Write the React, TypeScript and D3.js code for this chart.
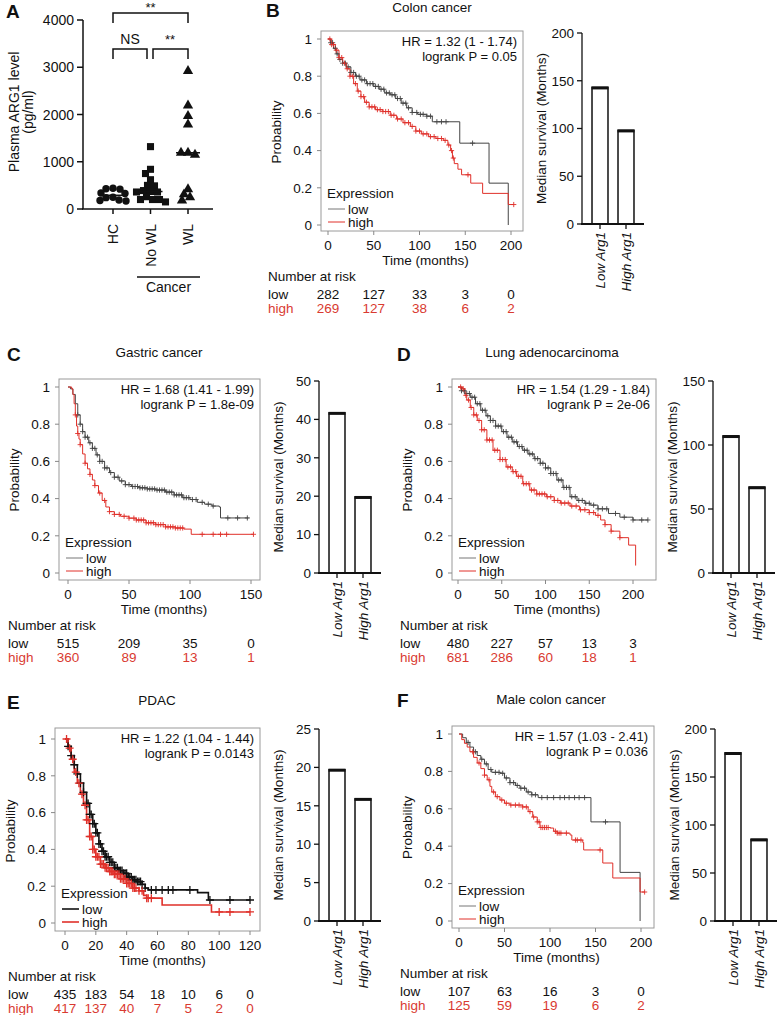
import React from 'react';
import * as d3 from 'd3';

const FONT = "'Liberation Sans', Arial, Helvetica, sans-serif";
const RED = '#e0302a';
const RISK_RED = '#d93a31';

// ---------------- Panel A data ----------------
const groupsA = ['HC', 'No WL', 'WL'];
const hcValues = [440, 430, 420, 340, 330, 250, 240, 190, 180, 170];
const noWlValues = [1320, 840, 750, 620, 500, 490, 390, 370, 360, 360, 260, 200, 200, 200, 150];
const wlValues = [2920, 2190, 1970, 1790, 1190, 1190, 1150, 420, 310, 250, 180];
const ticksA = [0, 1000, 2000, 3000, 4000];

// ---------------- KM data ----------------
type Pt = [number, number];
const probTicks = [0, 0.2, 0.4, 0.6, 0.8, 1];

// B Colon cancer
const bLow: Pt[] = [[0,1],[3,0.98],[6,0.95],[9,0.92],[12,0.89],[16,0.87],[20,0.85],[25,0.82],[30,0.8],[35,0.78],[42,0.76],[50,0.745],[56,0.73],[62,0.71],[68,0.7],[74,0.68],[80,0.655],[86,0.63],[92,0.605],[98,0.595],[108,0.585],[114,0.555],[144,0.44],[176,0.225],[197,0]];
const bHigh: Pt[] = [[0,1],[4,0.97],[8,0.94],[12,0.9],[16,0.87],[20,0.84],[24,0.8],[28,0.76],[32,0.72],[36,0.69],[40,0.66],[45,0.635],[52,0.62],[60,0.61],[68,0.59],[75,0.57],[82,0.55],[90,0.53],[96,0.505],[102,0.49],[110,0.475],[118,0.465],[126,0.455],[131,0.43],[134,0.4],[136,0.36],[138,0.33],[142,0.3],[146,0.27],[156,0.225],[169,0.17],[197,0.11],[203,0.11]];
const bLowCens = [3,5,8,10,13,16,19,22,25,28,31,34,37,40,43,46,49,52,55,58,61,64,67,70,73,76,79,82,85,88,92,97,101,104,108,112,119,124,129,158];
const bHighCens = [2,4,6,9,12,15,18,21,24,27,30,33,36,39,42,45,48,51,54,57,60,63,66,69,72,76,80,84,88,92,96,100,104,108,112,116,120,124,128,132,135,137,153,203];
const bTimes = [0, 50, 100, 150, 200];
const bRiskLow = [282, 127, 33, 3, 0];
const bRiskHigh = [269, 127, 38, 6, 2];

// C Gastric cancer
const cLow: Pt[] = [[0,1],[2,0.99],[4,0.96],[6,0.91],[8,0.85],[10,0.8],[12,0.76],[14,0.73],[17,0.7],[20,0.67],[23,0.635],[26,0.6],[30,0.565],[34,0.54],[38,0.515],[42,0.495],[47,0.475],[52,0.465],[58,0.458],[65,0.452],[72,0.446],[80,0.435],[87,0.42],[94,0.405],[100,0.395],[106,0.38],[112,0.37],[118,0.36],[124,0.355],[125,0.296],[148,0.296]];
const cHigh: Pt[] = [[0,1],[3,0.99],[4,0.96],[5,0.91],[6,0.85],[7,0.79],[8,0.75],[9,0.72],[10,0.69],[12,0.64],[14,0.59],[16,0.56],[18,0.53],[20,0.5],[22,0.47],[25,0.43],[28,0.39],[31,0.355],[34,0.33],[38,0.315],[43,0.305],[50,0.295],[56,0.285],[64,0.27],[72,0.26],[80,0.248],[88,0.242],[95,0.236],[101,0.208],[152,0.208]];
const cLowCens = [8,10,12,14,16,18,20,22,24,26,28,30,32,35,38,41,44,47,50,53,55,57,59,61,63,65,67,69,71,73,75,77,79,81,83,85,87,89,91,93,95,97,99,102,105,110,115,119,131,139,147];
const cHighCens = [6,8,10,14,18,22,26,30,34,38,42,46,50,54,56,58,60,62,64,66,68,70,72,74,76,78,80,82,84,86,88,90,92,94,110,119,125,130,152];
const cTimes = [0, 50, 100, 150];
const cRiskLow = [515, 209, 35, 0];
const cRiskHigh = [360, 89, 13, 1];

// D Lung adenocarcinoma
const dLow: Pt[] = [[0,1],[4,0.98],[8,0.965],[14,0.945],[20,0.91],[26,0.875],[32,0.845],[37,0.82],[43,0.79],[50,0.76],[56,0.73],[62,0.705],[68,0.68],[74,0.66],[80,0.64],[87,0.615],[94,0.59],[100,0.565],[106,0.535],[113,0.5],[120,0.46],[128,0.41],[136,0.39],[145,0.375],[151,0.365],[160,0.345],[172,0.32],[185,0.3],[200,0.285],[217,0.285]];
const dHigh: Pt[] = [[0,1],[5,0.99],[8,0.955],[10,0.93],[14,0.89],[18,0.85],[22,0.82],[27,0.77],[33,0.715],[40,0.66],[48,0.61],[55,0.57],[62,0.545],[67,0.52],[74,0.48],[82,0.446],[90,0.425],[101,0.41],[110,0.39],[117,0.376],[128,0.36],[139,0.34],[150,0.325],[157,0.31],[163,0.285],[168,0.26],[175,0.225],[185,0.19],[195,0.15],[203,0.04]];
const dLowCens = [4,7,10,13,16,19,22,25,28,31,34,37,40,43,46,49,52,55,58,61,64,67,70,73,76,79,82,85,88,91,94,97,100,103,106,109,112,115,118,121,124,127,130,134,138,142,146,150,155,160,165,170,180,190,200,210,217];
const dHighCens = [3,6,9,12,15,18,21,24,27,30,33,36,39,42,45,48,51,54,57,60,63,66,69,72,75,78,81,84,87,90,93,96,99,102,106,110,114,118,122,126,130,135,140,145,150,155,160,168,175,185];
const dTimes = [0, 50, 100, 150, 200];
const dRiskLow = [480, 227, 57, 13, 3];
const dRiskHigh = [681, 286, 60, 18, 1];

// E PDAC
const eLow: Pt[] = [[0,1],[2,0.96],[4,0.91],[6,0.86],[8,0.81],[10,0.76],[12,0.71],[14,0.65],[16,0.59],[18,0.54],[20,0.49],[22,0.43],[24,0.39],[26,0.36],[29,0.33],[32,0.3],[35,0.285],[38,0.27],[41,0.25],[44,0.235],[47,0.225],[50,0.21],[52,0.19],[54,0.18],[86,0.165],[93,0.125],[120,0.125]];
const eHigh: Pt[] = [[0,1],[2,0.95],[4,0.89],[6,0.82],[8,0.76],[10,0.7],[12,0.64],[14,0.56],[16,0.47],[18,0.4],[20,0.36],[23,0.32],[26,0.3],[29,0.28],[32,0.265],[36,0.24],[40,0.215],[44,0.19],[48,0.175],[51,0.15],[53,0.135],[63,0.098],[95,0.06],[120,0.06]];
const eLowCens = [2,4,6,8,10,12,14,15,16,17,18,19,20,21,22,23,24,25,26,27,28,29,30,31,32,33,34,35,36,37,38,39,40,41,42,43,44,45,46,47,48,49,50,52,56,59,63,67,70,81,94,107,120];
const eHighCens = [1,3,5,7,9,11,13,14,15,16,17,18,19,20,21,22,23,24,25,26,27,28,29,30,31,32,33,34,35,36,37,38,39,40,41,42,43,44,45,46,48,50,53,54,56,100,107,120];
const eTimes = [0, 20, 40, 60, 80, 100, 120];
const eRiskLow = [435, 183, 54, 18, 10, 6, 0];
const eRiskHigh = [417, 137, 40, 7, 5, 2, 0];

// F Male colon cancer
const fLow: Pt[] = [[0,1],[4,0.98],[8,0.955],[12,0.93],[16,0.905],[20,0.885],[24,0.865],[28,0.84],[32,0.81],[36,0.795],[45,0.79],[50,0.765],[56,0.74],[62,0.725],[67,0.71],[74,0.69],[80,0.675],[87,0.66],[145,0.53],[177,0.26],[199,0]];
const fHigh: Pt[] = [[0,1],[3,0.97],[6,0.95],[9,0.93],[12,0.905],[16,0.875],[20,0.845],[24,0.815],[28,0.78],[31,0.755],[34,0.72],[36,0.69],[40,0.665],[45,0.647],[50,0.63],[56,0.62],[70,0.61],[76,0.585],[81,0.556],[86,0.53],[89,0.5],[100,0.497],[104,0.48],[108,0.47],[122,0.46],[124,0.433],[136,0.42],[137,0.38],[158,0.31],[169,0.23],[199,0.155],[204,0.155]];
const fLowCens = [10,18,25,30,35,40,44,48,52,56,60,64,68,72,76,80,84,91,97,104,111,116,121,127,132,138,161];
const fHighCens = [15,22,28,33,38,42,47,52,57,62,66,70,74,78,82,86,88,90,92,94,96,98,106,108,110,112,118,128,130,134,155,204];
const fTimes = [0, 50, 100, 150, 200];
const fRiskLow = [107, 63, 16, 3, 0];
const fRiskHigh = [125, 59, 19, 6, 2];

// ---------------- Median survival data ----------------
const barCats = ['Low Arg1', 'High Arg1'];
const bMedian = [143, 98];
const cMedian = [41.7, 19.8];
const dMedian = [107, 67];
const eMedian = [19.7, 15.9];
const fMedian = [175, 85];
const bBarTicks = [0, 50, 100, 150, 200];
const cBarTicks = [0, 10, 20, 30, 40, 50];
const dBarTicks = [0, 50, 100, 150];
const eBarTicks = [0, 5, 10, 15, 20, 25];
const fBarTicks = [0, 50, 100, 150, 200];

function survAt(curve: Pt[], t: number): number {
  let s = curve[0][1];
  for (const [ti, si] of curve) {
    if (ti <= t) s = si;
    else break;
  }
  return s;
}

function beeswarm(values: number[], y: (v: number) => number, cx: number, minDist: number) {
  const placed: { x: number; y: number; v: number }[] = [];
  const sorted = [...values].sort((a, b) => b - a);
  for (const v of sorted) {
    const py = y(v);
    let best = 0;
    for (let k = 0; k < 400; k++) {
      const off = k === 0 ? 0 : k % 2 === 1 ? -Math.ceil(k / 2) : Math.ceil(k / 2);
      const px = cx + off;
      if (placed.every((p) => Math.hypot(p.x - px, p.y - py) >= minDist)) {
        best = off;
        break;
      }
    }
    placed.push({ x: cx + best, y: py, v });
  }
  return placed;
}

function PanelA() {
  const y = d3.scaleLinear().domain([0, 4000]).range([209, 20]);
  const x = d3.scalePoint<string>().domain(groupsA).range([113, 188]);
  const groupVals = [hcValues, noWlValues, wlValues];
  const sq = d3.symbol(d3.symbolSquare, 50)()!;
  const tri = d3.symbol(d3.symbolTriangle, 46)()!;
  return (
    <g fontFamily={FONT} fill="#111">
      <text x={6} y={18} fontSize={19} fontWeight="bold">A</text>
      <line x1={83} x2={83} y1={y(0)} y2={y(4000)} stroke="#111" strokeWidth={1.5} />
      <line x1={82} x2={213} y1={y(0)} y2={y(0)} stroke="#111" strokeWidth={1.5} />
      {ticksA.map((t) => (
        <g key={t}>
          <line x1={77} x2={83} y1={y(t)} y2={y(t)} stroke="#111" strokeWidth={1.5} />
          <text x={74} y={y(t)} dy="0.36em" textAnchor="end" fontSize={14}>{t}</text>
        </g>
      ))}
      <text transform={`translate(19,112) rotate(-90)`} textAnchor="middle" fontSize={14}>Plasma ARG1 level</text>
      <text transform={`translate(33,112) rotate(-90)`} textAnchor="middle" fontSize={14}>(pg/ml)</text>
      {groupsA.map((g) => (
        <g key={g}>
          <line x1={x(g)} x2={x(g)} y1={y(0)} y2={y(0) + 5} stroke="#111" strokeWidth={1.5} />
          <text transform={`translate(${x(g)! + 5},${y(0) + 15}) rotate(-90)`} textAnchor="end" fontSize={14}>{g}</text>
        </g>
      ))}
      <line x1={137} x2={200} y1={277} y2={277} stroke="#111" strokeWidth={1.5} />
      <text x={168.5} y={292} textAnchor="middle" fontSize={14}>Cancer</text>
      {groupVals.map((vals, gi) => {
        const cx = x(groupsA[gi])!;
        const pts = beeswarm(vals, y, cx, 6.4);
        const med = d3.median(vals)!;
        return (
          <g key={gi}>
            {pts.map((p, i) =>
              gi === 0 ? (
                <circle key={i} cx={p.x} cy={p.y} r={3.7} fill="#111" />
              ) : (
                <path key={i} d={gi === 1 ? sq : tri} transform={`translate(${p.x},${p.y})`} fill="#111" />
              )
            )}
            <line x1={cx - 12} x2={cx + 12} y1={y(med)} y2={y(med)} stroke="#111" strokeWidth={1.5} />
          </g>
        );
      })}
      {/* significance brackets */}
      <path d={`M${x('HC')},23 V13 H${x('WL')} V23`} fill="none" stroke="#111" strokeWidth={1.5} />
      <text x={150.5} y={12} textAnchor="middle" fontSize={13}>**</text>
      <path d={`M${x('HC')},59 V49 H147 V59`} fill="none" stroke="#111" strokeWidth={1.5} />
      <text x={130} y={44} textAnchor="middle" fontSize={14}>NS</text>
      <path d={`M153,59 V49 H${x('WL')} V59`} fill="none" stroke="#111" strokeWidth={1.5} />
      <text x={170} y={44} textAnchor="middle" fontSize={13}>**</text>
    </g>
  );
}

type KMCfg = {
  letter: string; letterX: number; letterY: number;
  title: string; titleX: number; titleY: number;
  frame: { x: number; y: number; w: number; h: number };
  xDomain: [number, number]; xRange: [number, number];
  yTop: number; yBottom: number;
  times: number[];
  low: Pt[]; high: Pt[]; lowCens: number[]; highCens: number[];
  riskLow: number[]; riskHigh: number[];
  hr: string; p: string; riskX: number; thick?: boolean;
};

function KMPanel({ c }: { c: KMCfg }) {
  const x = d3.scaleLinear().domain(c.xDomain).range(c.xRange);
  const y = d3.scaleLinear().domain([0, 1]).range([c.yBottom, c.yTop]);
  const line = d3.line<Pt>().x((d) => x(d[0])).y((d) => y(d[1])).curve(d3.curveStepAfter);
  const f = c.frame;
  const fb = f.y + f.h;
  const lowCol = c.thick ? '#111' : '#444';
  const lw = c.thick ? 1.6 : 1;
  const cs = c.thick ? 4 : 2.6;
  const cw = c.thick ? 1.3 : 0.9;
  const plus = (t: number, curve: Pt[], col: string, k: string) => {
    const px = x(t), py = y(survAt(curve, t));
    return <path key={k} d={`M${px - cs},${py}H${px + cs}M${px},${py - cs}V${py + cs}`} stroke={col} strokeWidth={cw} />;
  };
  return (
    <g fontFamily={FONT} fill="#111">
      <text x={c.letterX} y={c.letterY} fontSize={19} fontWeight="bold">{c.letter}</text>
      <text x={c.titleX} y={c.titleY} textAnchor="middle" fontSize={13.5}>{c.title}</text>
      <rect x={f.x} y={f.y} width={f.w} height={f.h} fill="none" stroke="#9a9a9a" strokeWidth={1} />
      {probTicks.map((t) => (
        <g key={t}>
          <line x1={f.x - 4} x2={f.x} y1={y(t)} y2={y(t)} stroke="#888" />
          <text x={f.x - 9} y={y(t)} dy="0.36em" textAnchor="end" fontSize={13.5}>{t === 0 || t === 1 ? String(t) : t.toFixed(1)}</text>
        </g>
      ))}
      {c.times.map((t) => (
        <g key={t}>
          <line x1={x(t)} x2={x(t)} y1={fb} y2={fb + 4} stroke="#888" />
          <text x={x(t)} y={fb + 18.5} textAnchor="middle" fontSize={13.5}>{t}</text>
        </g>
      ))}
      <text transform={`translate(${f.x - 40},${(y(0) + y(1)) / 2}) rotate(-90)`} textAnchor="middle" fontSize={13.5}>Probability</text>
      <text x={(x(c.xDomain[0]) + f.x + f.w) / 2} y={fb + 34} textAnchor="middle" fontSize={13.5}>Time (months)</text>
      <text x={c.riskX} y={fb + 50} fontSize={13.5}>Number at risk</text>
      <text x={c.riskX} y={fb + 68} fontSize={13.5}>low</text>
      <text x={c.riskX} y={fb + 82} fontSize={13.5} fill={RISK_RED}>high</text>
      {c.times.map((t, i) => (
        <g key={'r' + t}>
          <text x={x(t)} y={fb + 68} textAnchor="middle" fontSize={13.5}>{c.riskLow[i]}</text>
          <text x={x(t)} y={fb + 82} textAnchor="middle" fontSize={13.5} fill={RISK_RED}>{c.riskHigh[i]}</text>
        </g>
      ))}
      <text x={f.x + f.w - 6} y={f.y + 14.5} textAnchor="end" fontSize={13}>{c.hr}</text>
      <text x={f.x + f.w - 6} y={f.y + 30} textAnchor="end" fontSize={13}>{c.p}</text>
      <path d={line(c.low)!} fill="none" stroke={lowCol} strokeWidth={lw} />
      <path d={line(c.high)!} fill="none" stroke={RED} strokeWidth={lw} />
      {c.lowCens.map((t, i) => plus(t, c.low, lowCol, 'l' + i))}
      {c.highCens.map((t, i) => plus(t, c.high, RED, 'h' + i))}
      <text x={f.x + 6} y={fb - 33} fontSize={13.5}>Expression</text>
      <line x1={f.x + 7} x2={f.x + 24} y1={fb - 22} y2={fb - 22} stroke={c.thick ? '#111' : '#777'} strokeWidth={lw} />
      <text x={f.x + 27} y={fb - 17.5} fontSize={13.5}>low</text>
      <line x1={f.x + 7} x2={f.x + 24} y1={fb - 9} y2={fb - 9} stroke={RED} strokeWidth={lw} />
      <text x={f.x + 27} y={fb - 4.5} fontSize={13.5}>high</text>
    </g>
  );
}

type BarCfg = { axisX: number; y0: number; yTop: number; max: number; ticks: number[]; values: number[] };

function MedianBars({ c }: { c: BarCfg }) {
  const y = d3.scaleLinear().domain([0, c.max]).range([c.y0, c.yTop]);
  const xb = d3.scaleBand<string>().domain(barCats).range([c.axisX, c.axisX + 62]).paddingInner(0.385).paddingOuter(0.385);
  const bw = xb.bandwidth();
  return (
    <g fontFamily={FONT} fill="#111">
      <line x1={c.axisX} x2={c.axisX} y1={c.y0} y2={c.yTop} stroke="#111" strokeWidth={1.3} />
      {c.ticks.map((t) => (
        <g key={t}>
          <line x1={c.axisX - 5} x2={c.axisX} y1={y(t)} y2={y(t)} stroke="#111" strokeWidth={1.3} />
          <text x={c.axisX - 8} y={y(t)} dy="0.36em" textAnchor="end" fontSize={13.5}>{t}</text>
        </g>
      ))}
      <text transform={`translate(${c.axisX - 36},${(c.y0 + c.yTop) / 2}) rotate(-90)`} textAnchor="middle" fontSize={13.5}>Median survival (Months)</text>
      {barCats.map((cat, i) => (
        <g key={cat}>
          <rect x={xb(cat)} y={y(c.values[i])} width={bw} height={c.y0 - y(c.values[i])} fill="#fff" stroke="#111" strokeWidth={1.5} />
          <line x1={xb(cat)! - 0.5} x2={xb(cat)! + bw + 0.5} y1={y(c.values[i]) + 0.5} y2={y(c.values[i]) + 0.5} stroke="#111" strokeWidth={3} />
          <line x1={xb(cat)! + bw / 2} x2={xb(cat)! + bw / 2} y1={c.y0} y2={c.y0 + 5} stroke="#111" strokeWidth={1.3} />
          <text transform={`translate(${xb(cat)! + bw / 2 + 5},${c.y0 + 8}) rotate(-90)`} textAnchor="end" fontSize={13.5} fontStyle="italic">{cat}</text>
        </g>
      ))}
      <line x1={c.axisX - 1} x2={c.axisX + 62} y1={c.y0} y2={c.y0} stroke="#111" strokeWidth={2} />
    </g>
  );
}

const kmB: KMCfg = {
  letter: 'B', letterX: 266, letterY: 17, title: 'Colon cancer', titleX: 432, titleY: 12,
  frame: { x: 321, y: 31, w: 202, h: 200 }, xDomain: [0, 200], xRange: [328, 511], yTop: 39, yBottom: 225,
  times: bTimes, low: bLow, high: bHigh, lowCens: bLowCens, highCens: bHighCens,
  riskLow: bRiskLow, riskHigh: bRiskHigh, hr: 'HR = 1.32 (1 - 1.74)', p: 'logrank P = 0.05', riskX: 268,
};
const kmC: KMCfg = {
  letter: 'C', letterX: 7, letterY: 361, title: 'Gastric cancer', titleX: 159, titleY: 357,
  frame: { x: 59, y: 379, w: 201, h: 201 }, xDomain: [0, 150], xRange: [68, 251], yTop: 387, yBottom: 573,
  times: cTimes, low: cLow, high: cHigh, lowCens: cLowCens, highCens: cHighCens,
  riskLow: cRiskLow, riskHigh: cRiskHigh, hr: 'HR = 1.68 (1.41 - 1.99)', p: 'logrank P = 1.8e-09', riskX: 8,
};
const kmD: KMCfg = {
  letter: 'D', letterX: 397, letterY: 361, title: 'Lung adenocarcinoma', titleX: 552, titleY: 357,
  frame: { x: 452, y: 379, w: 204, h: 201 }, xDomain: [0, 200], xRange: [458, 633], yTop: 387, yBottom: 573,
  times: dTimes, low: dLow, high: dHigh, lowCens: dLowCens, highCens: dHighCens,
  riskLow: dRiskLow, riskHigh: dRiskHigh, hr: 'HR = 1.54 (1.29 - 1.84)', p: 'logrank P = 2e-06', riskX: 400,
};
const kmE: KMCfg = {
  letter: 'E', letterX: 7, letterY: 709, title: 'PDAC', titleX: 157, titleY: 705,
  frame: { x: 55, y: 728, w: 205, h: 203 }, xDomain: [0, 120], xRange: [65, 250], yTop: 739, yBottom: 923,
  times: eTimes, low: eLow, high: eHigh, lowCens: eLowCens, highCens: eHighCens,
  riskLow: eRiskLow, riskHigh: eRiskHigh, hr: 'HR = 1.22 (1.04 - 1.44)', p: 'logrank P = 0.0143', riskX: 8, thick: true,
};
const kmF: KMCfg = {
  letter: 'F', letterX: 397, letterY: 707, title: 'Male colon cancer', titleX: 551, titleY: 704,
  frame: { x: 452, y: 726, w: 202, h: 202 }, xDomain: [0, 200], xRange: [459, 641], yTop: 734, yBottom: 921,
  times: fTimes, low: fLow, high: fHigh, lowCens: fLowCens, highCens: fHighCens,
  riskLow: fRiskLow, riskHigh: fRiskHigh, hr: 'HR = 1.57 (1.03 - 2.41)', p: 'logrank P = 0.036', riskX: 400,
};

const barB: BarCfg = { axisX: 582, y0: 224, yTop: 33, max: 200, ticks: bBarTicks, values: bMedian };
const barC: BarCfg = { axisX: 319, y0: 573, yTop: 381, max: 50, ticks: cBarTicks, values: cMedian };
const barD: BarCfg = { axisX: 713, y0: 573, yTop: 381, max: 150, ticks: dBarTicks, values: dMedian };
const barE: BarCfg = { axisX: 319, y0: 921, yTop: 729, max: 25, ticks: eBarTicks, values: eMedian };
const barF: BarCfg = { axisX: 715, y0: 921, yTop: 729, max: 200, ticks: fBarTicks, values: fMedian };

export default function App() {
  return (
    <svg width={777} height={1015} style={{ position: 'absolute', left: 0, top: 0, background: '#fff' }}>
      <rect width={777} height={1015} fill="#fff" />
      <PanelA />
      <KMPanel c={kmB} />
      <MedianBars c={barB} />
      <KMPanel c={kmC} />
      <MedianBars c={barC} />
      <KMPanel c={kmD} />
      <MedianBars c={barD} />
      <KMPanel c={kmE} />
      <MedianBars c={barE} />
      <KMPanel c={kmF} />
      <MedianBars c={barF} />
    </svg>
  );
}
